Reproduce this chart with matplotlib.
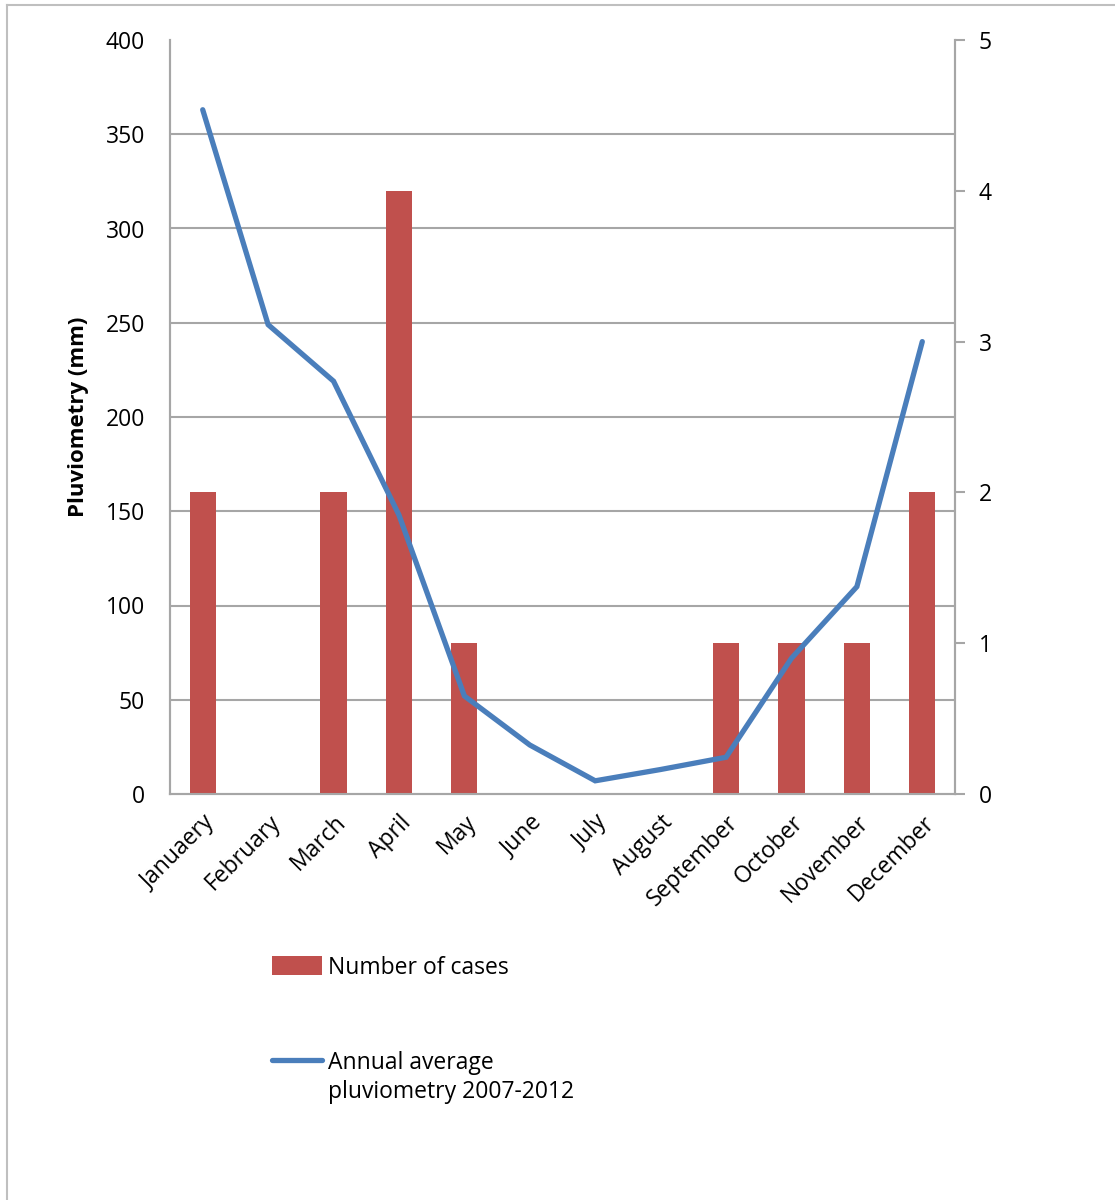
import matplotlib
matplotlib.use("Agg")
import matplotlib.pyplot as plt
import numpy as np
from matplotlib.patches import Patch
from matplotlib.lines import Line2D

plt.rcParams['font.family'] = ['Open Sans', 'DejaVu Sans']

# datos
meses = ["Januaery", "February", "March", "April", "May", "June", "July",
         "August", "September", "October", "November", "December"]
casos = [2, 0, 2, 4, 1, 0, 0, 0, 1, 1, 1, 2]
pluvio = [363, 249, 219, 148, 52, 26, 7, 13, 19.5, 72, 110, 240]

ticks_mm = [0, 50, 100, 150, 200, 250, 300, 350, 400]
ticks_casos = [0, 1, 2, 3, 4, 5]

rojo = "#C0504D"
azul = "#4A7EBB"
gris = "#A6A6A6"
fs = 16.5

fig = plt.figure(figsize=(11.15, 12), dpi=100)
ax = fig.add_axes([170/1115, 1-794/1200, 785/1115, 754/1200])
ax2 = ax.twinx()

x = np.arange(len(meses))

# barras (eje derecho) debajo de la linea
ax2.bar(x, casos, width=0.4, color=rojo, zorder=3)
ax2.set_ylim(0, 5)
ax2.set_yticks(ticks_casos)
ax2.set_yticks(np.array(ticks_mm) / 80.0, minor=True)
ax2.grid(which='minor', axis='y', color=gris, linewidth=1.5, zorder=0)
ax2.tick_params(axis='y', which='minor', length=0)
ax2.tick_params(axis='y', which='major', length=7, width=1.5, color=gris,
                labelsize=fs, pad=10)

ax.set_zorder(ax2.get_zorder() + 1)
ax.patch.set_visible(False)
ax.plot(x, pluvio, color=azul, linewidth=3.8, solid_capstyle='round',
        solid_joinstyle='miter', zorder=4)
ax.set_ylim(0, 400)
ax.set_xlim(-0.5, len(meses) - 0.5)
ax.set_yticks(ticks_mm)
ax.tick_params(axis='y', length=0, labelsize=fs, pad=18)
ax.set_xticks(x)
ax.set_xticklabels(meses, rotation=45, ha='right', rotation_mode='anchor',
                   fontsize=fs)
ax.tick_params(axis='x', length=0, pad=12)
ax.set_ylabel("Pluviometry (mm)", fontsize=fs - 0.5, fontweight='bold',
              labelpad=12)

for a in (ax, ax2):
    for s in a.spines.values():
        s.set_color(gris)
        s.set_linewidth(1.5)
    a.spines['top'].set_visible(False)

# leyenda debajo del grafico
handles = [Patch(facecolor=rojo, edgecolor='none'),
           Line2D([0], [0], color=azul, linewidth=3.8, solid_capstyle='round')]
labels = ["Number of cases", "Annual average"]
fig.legend(handles, labels, loc='upper left',
           bbox_to_anchor=(251/1115, 1-935/1200), frameon=False,
           fontsize=fs, handlelength=2.2, handleheight=0.9, handletextpad=0.25,
           labelspacing=3.1)
fig.text(328/1115, 1-1092/1200, "pluviometry 2007-2012", fontsize=fs,
         va='center', ha='left')

# marco exterior
fig.add_artist(Line2D([7/1115, 7/1115], [0, 1-5/1200], color="#BFBFBF",
                      linewidth=1.5, transform=fig.transFigure))
fig.add_artist(Line2D([7/1115, 1], [1-5/1200, 1-5/1200], color="#BFBFBF",
                      linewidth=1.5, transform=fig.transFigure))

fig.savefig("out.png", dpi=100)
